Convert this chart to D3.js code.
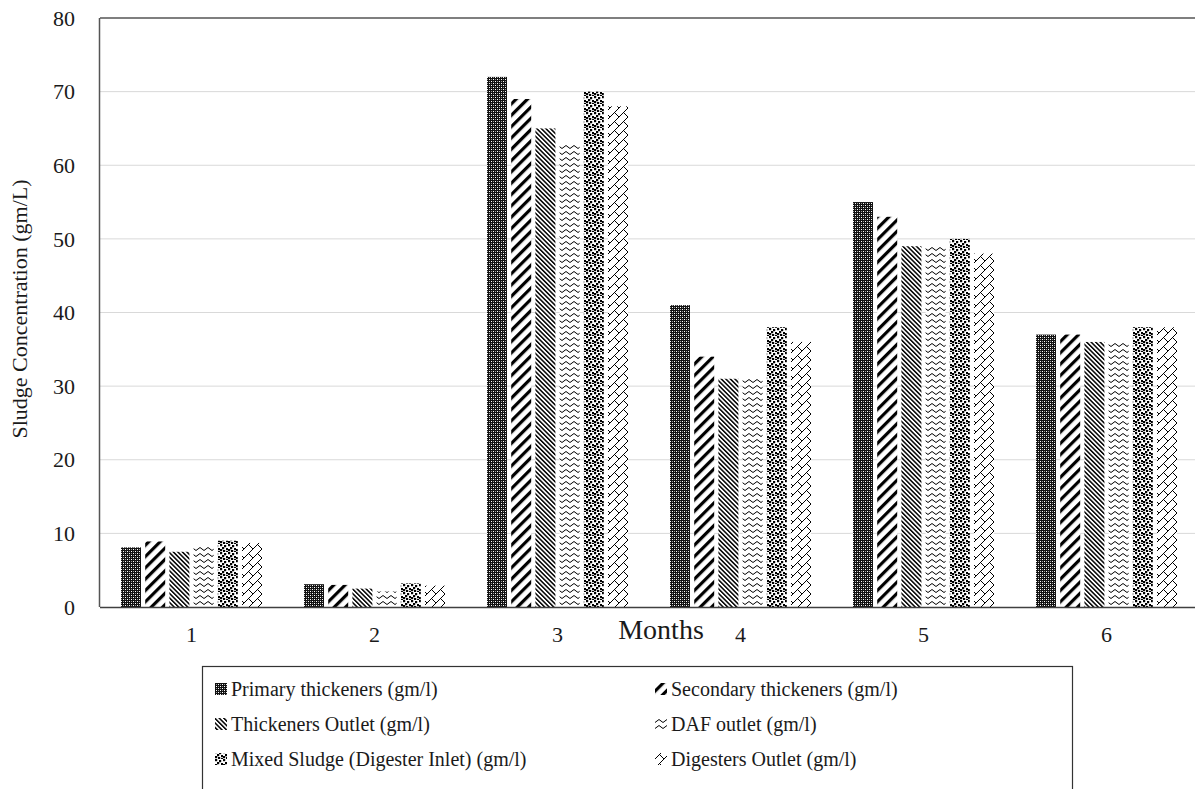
<html>
<head>
<script src="https://d3js.org/d3.v7.min.js"></script>
<style>
  body { margin: 0; background: #fff; }
  text { font-family: "Liberation Serif", "Times New Roman", serif; fill: #1a1a1a; }
</style>
</head>
<body>
<div id="chart"></div>
<script>
var months = ["1", "2", "3", "4", "5", "6"];
var seriesNames = [
  "Primary thickeners (gm/l)",
  "Secondary thickeners (gm/l)",
  "Thickeners Outlet (gm/l)",
  "DAF outlet (gm/l)",
  "Mixed Sludge (Digester Inlet) (gm/l)",
  "Digesters Outlet (gm/l)"
];
var primary   = [8.1, 3.1, 72, 41, 55, 37];
var secondary = [8.9, 3.0, 69, 34, 53, 37];
var thickOut  = [7.5, 2.5, 65, 31, 49, 36];
var dafOut    = [8.3, 2.1, 63, 31, 49, 36];
var mixed     = [9.0, 3.2, 70, 38, 50, 38];
var digOut    = [8.7, 2.9, 68, 36, 48, 38];
var yTicks = [0, 10, 20, 30, 40, 50, 60, 70, 80];

var allSeries = [primary, secondary, thickOut, dafOut, mixed, digOut];

var W = 1195, H = 789;
var plotL = 100, plotT = 18, plotB = 607, plotR = 1198;

var svg = d3.select("#chart").append("svg")
    .attr("width", W).attr("height", H);

// patterns
var defs = svg.append("defs");

var p1 = defs.append("pattern").attr("id", "pat0")
    .attr("patternUnits", "userSpaceOnUse").attr("width", 4).attr("height", 4);
p1.append("rect").attr("width", 4).attr("height", 4).attr("fill", "#111");
[[1, 1], [3, 3], [1, 3], [3, 1]].forEach(function(d, i) {
  p1.append("rect").attr("x", d[0]).attr("y", d[1]).attr("width", 1).attr("height", 1)
    .attr("fill", i < 2 ? "#fff" : "#999");
});

var p2 = defs.append("pattern").attr("id", "pat1")
    .attr("patternUnits", "userSpaceOnUse").attr("width", 8).attr("height", 8)
    .attr("patternTransform", "rotate(45)");
p2.append("rect").attr("width", 8).attr("height", 8).attr("fill", "#fff");
p2.append("rect").attr("width", 3.2).attr("height", 8).attr("fill", "#000");

var p3 = defs.append("pattern").attr("id", "pat2")
    .attr("patternUnits", "userSpaceOnUse").attr("width", 3.2).attr("height", 8)
    .attr("patternTransform", "rotate(-45)");
p3.append("rect").attr("width", 3.2).attr("height", 8).attr("fill", "#fff");
p3.append("rect").attr("width", 1.5).attr("height", 8).attr("fill", "#000");

var p4 = defs.append("pattern").attr("id", "pat3")
    .attr("patternUnits", "userSpaceOnUse").attr("width", 8).attr("height", 6);
p4.append("rect").attr("width", 8).attr("height", 6).attr("fill", "#fff");
p4.append("path").attr("d", "M0,4.5 L4,1.5 L8,4.5").attr("fill", "none")
    .attr("stroke", "#000").attr("stroke-width", 1);

var p5 = defs.append("pattern").attr("id", "pat4")
    .attr("patternUnits", "userSpaceOnUse").attr("width", 8).attr("height", 8);
p5.append("rect").attr("width", 8).attr("height", 8).attr("fill", "#fff");
[[0, 0], [4, 1], [2, 3], [6, 4], [0, 5], [3, 6], [6, 7]].forEach(function(d) {
  p5.append("rect").attr("x", d[0]).attr("y", d[1]).attr("width", 2.2).attr("height", 2.2).attr("fill", "#000");
});

var p6 = defs.append("pattern").attr("id", "pat5")
    .attr("patternUnits", "userSpaceOnUse").attr("width", 9).attr("height", 9);
p6.append("rect").attr("width", 9).attr("height", 9).attr("fill", "#fff");
p6.append("path").attr("d", "M0,9 L9,0 M4.5,4.5 L9,9")
    .attr("fill", "none").attr("stroke", "#000").attr("stroke-width", 1);

// scales
var x0 = d3.scaleBand().domain(months).range([plotL, plotR]);
var x1 = d3.scaleBand().domain(d3.range(seriesNames.length))
    .range([21, x0.bandwidth() - 21]).paddingInner(0.174);
var y = d3.scaleLinear().domain([0, 80]).range([plotB, plotT]);

// gridlines
svg.append("g").selectAll("line").data(yTicks.slice(1, -1)).enter().append("line")
    .attr("x1", plotL).attr("x2", W)
    .attr("y1", function(d) { return y(d); }).attr("y2", function(d) { return y(d); })
    .attr("stroke", "#d9d9d9").attr("stroke-width", 1);

// frame
svg.append("line").attr("x1", plotL).attr("x2", W).attr("y1", y(80)).attr("y2", y(80))
    .attr("stroke", "#555").attr("stroke-width", 1.5);
svg.append("line").attr("x1", plotL - 0.5).attr("x2", plotL - 0.5).attr("y1", y(80)).attr("y2", y(0))
    .attr("stroke", "#555").attr("stroke-width", 1.5);

// bars
var groups = svg.append("g").selectAll("g").data(months).enter().append("g")
    .attr("transform", function(d) { return "translate(" + x0(d) + ",0)"; });
groups.selectAll("rect").data(function(d, i) {
    return allSeries.map(function(s, k) { return { k: k, v: s[i] }; });
  }).enter().append("rect")
    .attr("x", function(d) { return x1(d.k); })
    .attr("y", function(d) { return y(d.v); })
    .attr("width", x1.bandwidth())
    .attr("height", function(d) { return plotB - y(d.v); })
    .attr("fill", function(d) { return "url(#pat" + d.k + ")"; });

// x axis
svg.append("line").attr("x1", plotL).attr("x2", W).attr("y1", plotB + 0.5).attr("y2", plotB + 0.5)
    .attr("stroke", "#404040").attr("stroke-width", 1.5);
svg.append("g").selectAll("text").data(months).enter().append("text")
    .attr("x", function(d) { return x0(d) + x0.bandwidth() / 2; })
    .attr("y", 642)
    .attr("text-anchor", "middle").style("font-size", "22px")
    .text(function(d) { return d; });

// y axis labels
svg.append("g").selectAll("text").data(yTicks).enter().append("text")
    .attr("x", 75).attr("y", function(d) { return y(d); })
    .attr("dy", "0.35em")
    .attr("text-anchor", "end").style("font-size", "22px")
    .text(function(d) { return d; });

svg.append("text")
    .attr("transform", "translate(27," + 309 + ") rotate(-90)")
    .attr("text-anchor", "middle").style("font-size", "22px")
    .text("Sludge Concentration (gm/L)");

svg.append("text")
    .attr("x", 661).attr("y", 639)
    .attr("text-anchor", "middle").style("font-size", "28px")
    .text("Months");

// legend
svg.append("rect").attr("x", 202.5).attr("y", 666.5).attr("width", 870).attr("height", 140)
    .attr("fill", "none").attr("stroke", "#333").attr("stroke-width", 1.2);
var legX = [215, 655], legY = [689, 724, 759];
var leg = svg.append("g").selectAll("g").data(seriesNames).enter().append("g")
    .attr("transform", function(d, i) {
      return "translate(" + legX[i % 2] + "," + legY[Math.floor(i / 2)] + ")";
    });
leg.append("rect").attr("x", 0).attr("y", -6).attr("width", 12).attr("height", 12)
    .attr("fill", function(d, i) { return "url(#pat" + i + ")"; });
leg.append("text").attr("x", 16).attr("dy", "0.35em").style("font-size", "20px")
    .text(function(d) { return d; });
</script>
</body>
</html>
